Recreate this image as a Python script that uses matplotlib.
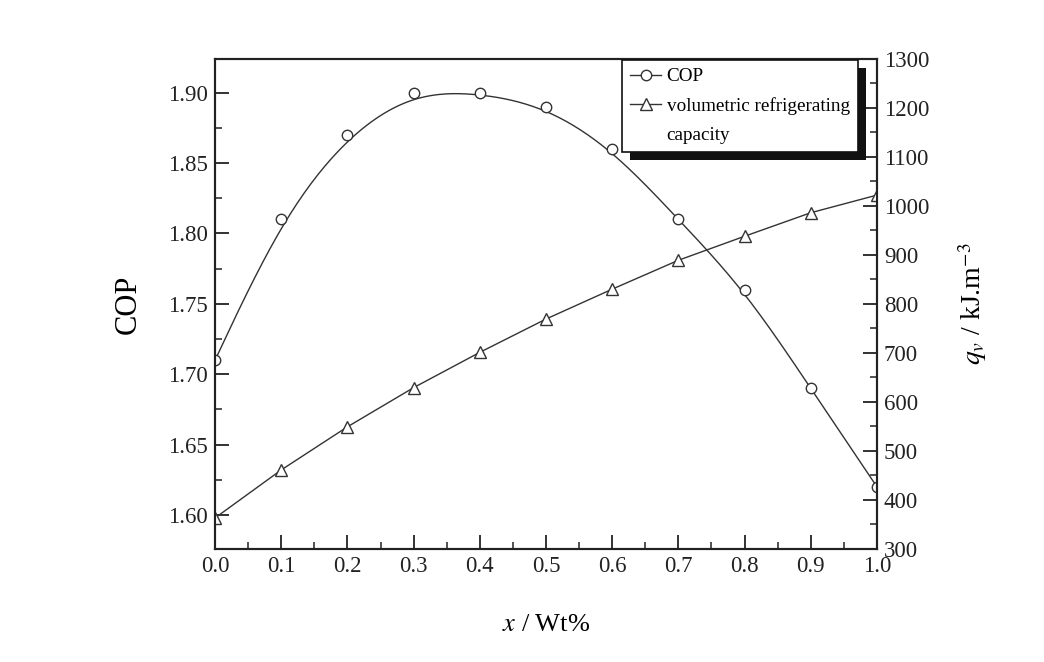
import numpy as np
import matplotlib
matplotlib.use("Agg")
import matplotlib.pyplot as plt
from matplotlib.lines import Line2D
from matplotlib.patches import Rectangle
from matplotlib.ticker import MultipleLocator, FormatStrFormatter

plt.rcParams["font.family"] = ["Liberation Serif", "DejaVu Serif"]
plt.rcParams["mathtext.fontset"] = "stix"

# ---- data -----------------------------------------------------------
x_wt = [0.0, 0.1, 0.2, 0.3, 0.4, 0.5, 0.6, 0.7, 0.8, 0.9, 1.0]
cop = [1.71, 1.81, 1.87, 1.90, 1.90, 1.89, 1.86, 1.81, 1.76, 1.69, 1.62]
qv = [363, 461, 549, 629, 701, 769, 830, 889, 938, 986, 1022]

INK = "#333333"


def bspline(xp, yp, n=30):
    """Uniform cubic B-spline through the end points, data as control points
    (the 'B-spline' line connection of Origin)."""
    P = np.column_stack([xp, yp]).astype(float)
    P = np.vstack([P[:1], P[:1], P, P[-1:], P[-1:]])
    t = np.linspace(0, 1, n)[:, None]
    b0 = (1 - t) ** 3 / 6
    b1 = (3 * t ** 3 - 6 * t ** 2 + 4) / 6
    b2 = (-3 * t ** 3 + 3 * t ** 2 + 3 * t + 1) / 6
    b3 = t ** 3 / 6
    segs = [b0 * P[i] + b1 * P[i + 1] + b2 * P[i + 2] + b3 * P[i + 3]
            for i in range(len(P) - 3)]
    pts = np.vstack(segs)
    return pts[:, 0], pts[:, 1]


fig = plt.figure(figsize=(10.44, 6.62), dpi=100)
ax = fig.add_axes([0.206, 0.171, 0.634, 0.740])
ax2 = ax.twinx()

# COP: points + smoothed connection
bx, by = bspline(x_wt, cop)
ax.plot(bx, by, color=INK, lw=1.0)
ax.plot(x_wt, cop, ls="none", marker="o", ms=7.5, mfc="white", mec=INK, mew=1.0)

# volumetric refrigerating capacity
ax2.plot(x_wt, qv, color=INK, lw=1.0, marker="^", ms=8.5, mfc="white",
         mec=INK, mew=1.0)

ax.set_xlim(0, 1.0)
ax.set_ylim(1.576, 1.924)
ax2.set_ylim(300, 1300)

ax.xaxis.set_major_locator(MultipleLocator(0.1))
ax.xaxis.set_minor_locator(MultipleLocator(0.05))
ax.xaxis.set_major_formatter(FormatStrFormatter("%.1f"))
ax.yaxis.set_major_locator(MultipleLocator(0.05))
ax.yaxis.set_minor_locator(MultipleLocator(0.025))
ax.yaxis.set_major_formatter(FormatStrFormatter("%.2f"))
ax2.yaxis.set_major_locator(MultipleLocator(100))
ax2.yaxis.set_minor_locator(MultipleLocator(50))

for a in (ax, ax2):
    a.tick_params(which="major", direction="in", length=10, width=1.3,
                  labelsize=16.5, colors="#222222", pad=5)
    a.tick_params(which="minor", direction="in", length=5, width=1.1,
                  colors="#222222")
    for s in a.spines.values():
        s.set_linewidth(1.5)
        s.set_color("#222222")
ax.tick_params(top=False, which="both")

ax.set_ylabel("COP", fontsize=22, labelpad=18)
ax.set_xlabel(r"$x$ / Wt%", fontsize=19, labelpad=27)
ax2.set_ylabel(r"$q_v$ / kJ.m$^{-3}$", fontsize=20, labelpad=19)

# legend with a solid drop shadow; second label wraps onto a handle-less row
handles = [
    Line2D([], [], color=INK, lw=1.0, marker="o", ms=7.5, mfc="white", mec=INK),
    Line2D([], [], color=INK, lw=1.0, marker="^", ms=8.5, mfc="white", mec=INK),
    Line2D([], [], color="none"),
]
labels = ["COP", "volumetric refrigerating", "capacity"]
leg = ax2.legend(handles, labels, loc="upper right",
                 bbox_to_anchor=(0.971, 0.998), borderaxespad=0,
                 fontsize=13.8, frameon=True, fancybox=False, handlelength=1.6,
                 handletextpad=0.3, borderpad=0.42, labelspacing=0.62)
leg.get_frame().set_edgecolor("#111111")
leg.get_frame().set_linewidth(1.2)
leg.get_frame().set_alpha(1)
leg.set_zorder(10)

fig.canvas.draw()
bb = leg.get_window_extent().transformed(fig.transFigure.inverted())
dx, dy = 8 / fig.bbox.width, 8 / fig.bbox.height
ax2.add_patch(Rectangle((bb.x0 + dx, bb.y0 - dy), bb.width, bb.height,
                        transform=fig.transFigure, facecolor="#111111",
                        edgecolor="none", zorder=9, clip_on=False))

fig.savefig("out.png", dpi=100)
